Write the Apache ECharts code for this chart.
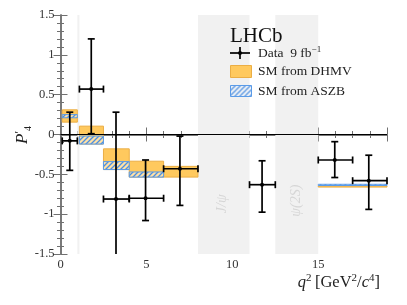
<!DOCTYPE html>
<html><head><meta charset="utf-8">
<script src="https://cdn.jsdelivr.net/npm/echarts@6/dist/echarts.min.js"></script>
<style>html,body{margin:0;padding:0;background:#fff}#c{width:407px;height:305px}</style>
</head><body><div id="c"></div>
<script>
// ---- data ----
const dataBinLo = [0.1, 1.1, 2.5, 4, 6, 11, 15, 17];
const dataBinHi = [0.98, 2.5, 4, 6, 8, 12.5, 17, 19];
const dataX     = [0.54, 1.79, 3.23, 4.95, 6.95, 11.73, 15.96, 17.94];
const dataY     = [-0.08, 0.57, -0.81, -0.80, -0.43, -0.63, -0.32, -0.58];
const dataUp    = [0.28, 1.20, 0.28, -0.32, -0.02, -0.33, -0.09, -0.26];
const dataDown  = [-0.45, 0.01, -1.9, -1.08, -0.89, -0.975, -0.54, -0.94];

const dhmvLo  = [0.1, 1.1, 2.5, 4, 6, 15];
const dhmvHi  = [0.98, 2.5, 4, 6, 8, 19];
const dhmvMin = [0.155, -0.12, -0.44, -0.535, -0.535, -0.66];
const dhmvMax = [0.31, 0.105, -0.18, -0.335, -0.40, -0.645];

const aszbLo  = [0.1, 1.1, 2.5, 4, 15];
const aszbHi  = [0.98, 2.5, 4, 6, 19];
const aszbMin = [0.21, -0.12, -0.44, -0.535, -0.64];
const aszbMax = [0.25, -0.02, -0.34, -0.47, -0.625];

const bandLo = [0.98, 8, 12.5];
const bandHi = [1.1, 11, 15];
const bandLabel = ['', 'J/ψ', 'ψ(2S)'];
const bandLabelX = [0, 9.4, 13.75];
const bandLabelY = [0, -0.87, -0.83];

const xTicks = [0, 5, 10, 15];
const yTickLabels = ['-1.5', '-1', '-0.5', '0', '0.5', '1', '1.5'];

// ---- styling ----
const FONT = '"Liberation Serif", "DejaVu Serif", serif';
const AX = '#707070';
const ORANGE = '#FFC95E';
const ORANGE_B = '#EBAE45';
const BLUE_B = '#5A9BE8';

function makeHatch() {
  const s = 5;
  const c = document.createElement('canvas'); c.width = s; c.height = s;
  const g = c.getContext('2d');
  g.fillStyle = 'rgba(255,255,255,0.45)'; g.fillRect(0, 0, s, s);
  g.strokeStyle = '#4d8fe0'; g.lineWidth = 1.3;
  g.beginPath();
  g.moveTo(0, s); g.lineTo(s, 0);
  g.moveTo(-s, s); g.lineTo(0, 0);
  g.moveTo(s, 2 * s); g.lineTo(2 * s, s);
  g.moveTo(-1, 1); g.lineTo(1, -1);
  g.moveTo(s - 1, s + 1); g.lineTo(s + 1, s - 1);
  g.stroke();
  return c;
}
const hatch = makeHatch();

const chart = echarts.init(document.getElementById('c'), null, {renderer: 'canvas'});

function boxSeries(lo, hi, mn, mx, fill, stroke, z) {
  return {
    type: 'custom', z: z, clip: true, silent: true,
    data: lo.map((v, i) => [lo[i], hi[i], mn[i], mx[i]]),
    renderItem(params, api) {
      const p1 = api.coord([api.value(0), api.value(3)]);
      const p2 = api.coord([api.value(1), api.value(2)]);
      return {
        type: 'rect',
        shape: {x: p1[0], y: p1[1], width: p2[0] - p1[0], height: Math.max(p2[1] - p1[1], 1)},
        style: {fill: fill, stroke: stroke, lineWidth: 1}
      };
    }
  };
}

const axisCommon = {
  axisLine: {lineStyle: {color: AX, width: 1.5}},
  axisTick: {inside: true, length: 7, lineStyle: {color: AX}},
  minorTick: {show: true, splitNumber: 5, length: 3.5, lineStyle: {color: AX}},
  splitLine: {show: false}
};

const option = {
  animation: false,
  grid: {left: 60.5, right: 20, top: 15, bottom: 51},
  xAxis: [
    Object.assign({type: 'value', min: 0, max: 19, interval: 5, position: 'bottom',
     axisLabel: {fontFamily: FONT, fontSize: 12.5, color: '#333', margin: 4,
                 formatter: v => xTicks.includes(v) ? String(v) : ''}}, axisCommon),
    Object.assign({type: 'value', min: 0, max: 19, interval: 5, position: 'top',
     axisLabel: {show: false}}, axisCommon)
  ],
  yAxis: [
    Object.assign({type: 'value', min: -1.5, max: 1.5, interval: 0.5, position: 'left',
     axisLabel: {fontFamily: FONT, fontSize: 12.5, color: '#333', margin: 6,
                 formatter: v => yTickLabels[Math.round((v + 1.5) / 0.5)]}}, axisCommon),
    Object.assign({type: 'value', min: -1.5, max: 1.5, interval: 0.5, position: 'right',
     axisLabel: {show: false}}, axisCommon)
  ],
  series: [
    { // shaded bands
      type: 'custom', z: 1, clip: true, silent: true,
      data: bandLo.map((v, i) => [bandLo[i], bandHi[i], bandLabelX[i], bandLabelY[i], i]),
      renderItem(params, api) {
        const i = api.value(4);
        const a = api.coord([api.value(0), 1.5]);
        const b = api.coord([api.value(1), -1.5]);
        const children = [{type: 'rect', shape: {x: a[0], y: a[1], width: b[0] - a[0], height: b[1] - a[1]},
                           style: {fill: '#f1f1f1'}}];
        if (bandLabel[i]) {
          const t = api.coord([api.value(2), api.value(3)]);
          children.push({type: 'text', x: t[0], y: t[1], rotation: Math.PI / 2,
            style: {text: bandLabel[i], fontFamily: FONT, fontStyle: 'italic', fontSize: 14,
                    fill: '#d6d6d6', align: 'center', verticalAlign: 'middle'}});
        }
        return {type: 'group', children};
      },
      markLine: {silent: true, symbol: 'none', label: {show: false},
                 lineStyle: {color: '#000', width: 1, type: 'solid'},
                 data: [{yAxis: 0}]}
    },
    boxSeries(dhmvLo, dhmvHi, dhmvMin, dhmvMax, ORANGE, ORANGE_B, 3),
    boxSeries(aszbLo, aszbHi, aszbMin, aszbMax, {image: hatch, repeat: 'repeat'}, BLUE_B, 4),
    { // data with error bars
      type: 'custom', z: 10, clip: true, silent: true,
      data: dataX.map((v, i) => [dataX[i], dataY[i], dataBinLo[i], dataBinHi[i], dataUp[i], dataDown[i]]),
      renderItem(params, api) {
        const c = api.coord([api.value(0), api.value(1)]);
        const l = api.coord([api.value(2), api.value(1)]);
        const r = api.coord([api.value(3), api.value(1)]);
        const t = api.coord([api.value(0), api.value(4)]);
        const b = api.coord([api.value(0), api.value(5)]);
        const st = {stroke: '#000', lineWidth: 1.7};
        const cap = 3.5;
        return {type: 'group', children: [
          {type: 'line', shape: {x1: l[0], y1: c[1], x2: r[0], y2: c[1]}, style: st},
          {type: 'line', shape: {x1: c[0], y1: t[1], x2: c[0], y2: b[1]}, style: st},
          {type: 'line', shape: {x1: l[0], y1: c[1] - cap, x2: l[0], y2: c[1] + cap}, style: st},
          {type: 'line', shape: {x1: r[0], y1: c[1] - cap, x2: r[0], y2: c[1] + cap}, style: st},
          {type: 'line', shape: {x1: c[0] - cap, y1: t[1], x2: c[0] + cap, y2: t[1]}, style: st},
          {type: 'line', shape: {x1: c[0] - cap, y1: b[1], x2: c[0] + cap, y2: b[1]}, style: st},
          {type: 'circle', shape: {cx: c[0], cy: c[1], r: 2}, style: {fill: '#000'}}
        ]};
      }
    }
  ],
  graphic: [
    {type: 'text', left: 230, top: 26, z: 100,
     style: {text: 'LHCb', fontFamily: FONT, fontSize: 21, fill: '#111'}},
    {type: 'line', z: 100, shape: {x1: 230, y1: 53, x2: 250, y2: 53}, style: {stroke: '#000', lineWidth: 1.7}},
    {type: 'line', z: 100, shape: {x1: 240, y1: 47, x2: 240, y2: 59}, style: {stroke: '#000', lineWidth: 1.7}},
    {type: 'circle', z: 101, shape: {cx: 240, cy: 53, r: 2}, style: {fill: '#000'}},
    {type: 'text', left: 258, top: 45, z: 100,
     style: {text: '{a|Data  9 fb}{s|−1}', rich: {
       a: {fontFamily: FONT, fontSize: 13.5, fill: '#222'},
       s: {fontFamily: FONT, fontSize: 9, fill: '#222', verticalAlign: 'top', padding: [0, 0, 8, 0]}}}},
    {type: 'rect', left: 230, top: 65, z: 100, shape: {width: 21, height: 12},
     style: {fill: ORANGE, stroke: ORANGE_B, lineWidth: 1}},
    {type: 'text', left: 258, top: 64, z: 100,
     style: {text: 'SM from DHMV', fontFamily: FONT, fontSize: 13.5, fill: '#222'}},
    {type: 'rect', left: 230, top: 85, z: 100, shape: {width: 21, height: 11},
     style: {fill: {image: hatch, repeat: 'repeat'}, stroke: BLUE_B, lineWidth: 1}},
    {type: 'text', left: 258, top: 84, z: 100,
     style: {text: 'SM from ASZB', fontFamily: FONT, fontSize: 13.5, fill: '#222'}},
    {type: 'text', right: 27, top: 273, z: 100,
     style: {text: '{i|q}{s|2} {a|[GeV}{s|2}{a|/}{i|c}{s|4}{a|]}', rich: {
       a: {fontFamily: FONT, fontSize: 16.5, fill: '#222'},
       i: {fontFamily: FONT, fontSize: 16.5, fontStyle: 'italic', fill: '#222'},
       s: {fontFamily: FONT, fontSize: 11, fill: '#222', padding: [0, 0, 9, 0]}}}},
    {type: 'text', x: 13, y: 144, rotation: Math.PI / 2, z: 100,
     style: {text: '{i|P}{p|′}{s|4}', rich: {
       i: {fontFamily: FONT, fontSize: 17, fontStyle: 'italic', fill: '#222'},
       p: {fontFamily: FONT, fontSize: 12, fill: '#222', padding: [0, 0, 6, 0]},
       s: {fontFamily: FONT, fontSize: 10, fill: '#222', padding: [10, 0, 0, 0]}}}}
  ]
};
chart.setOption(option);
</script>
</body></html>
